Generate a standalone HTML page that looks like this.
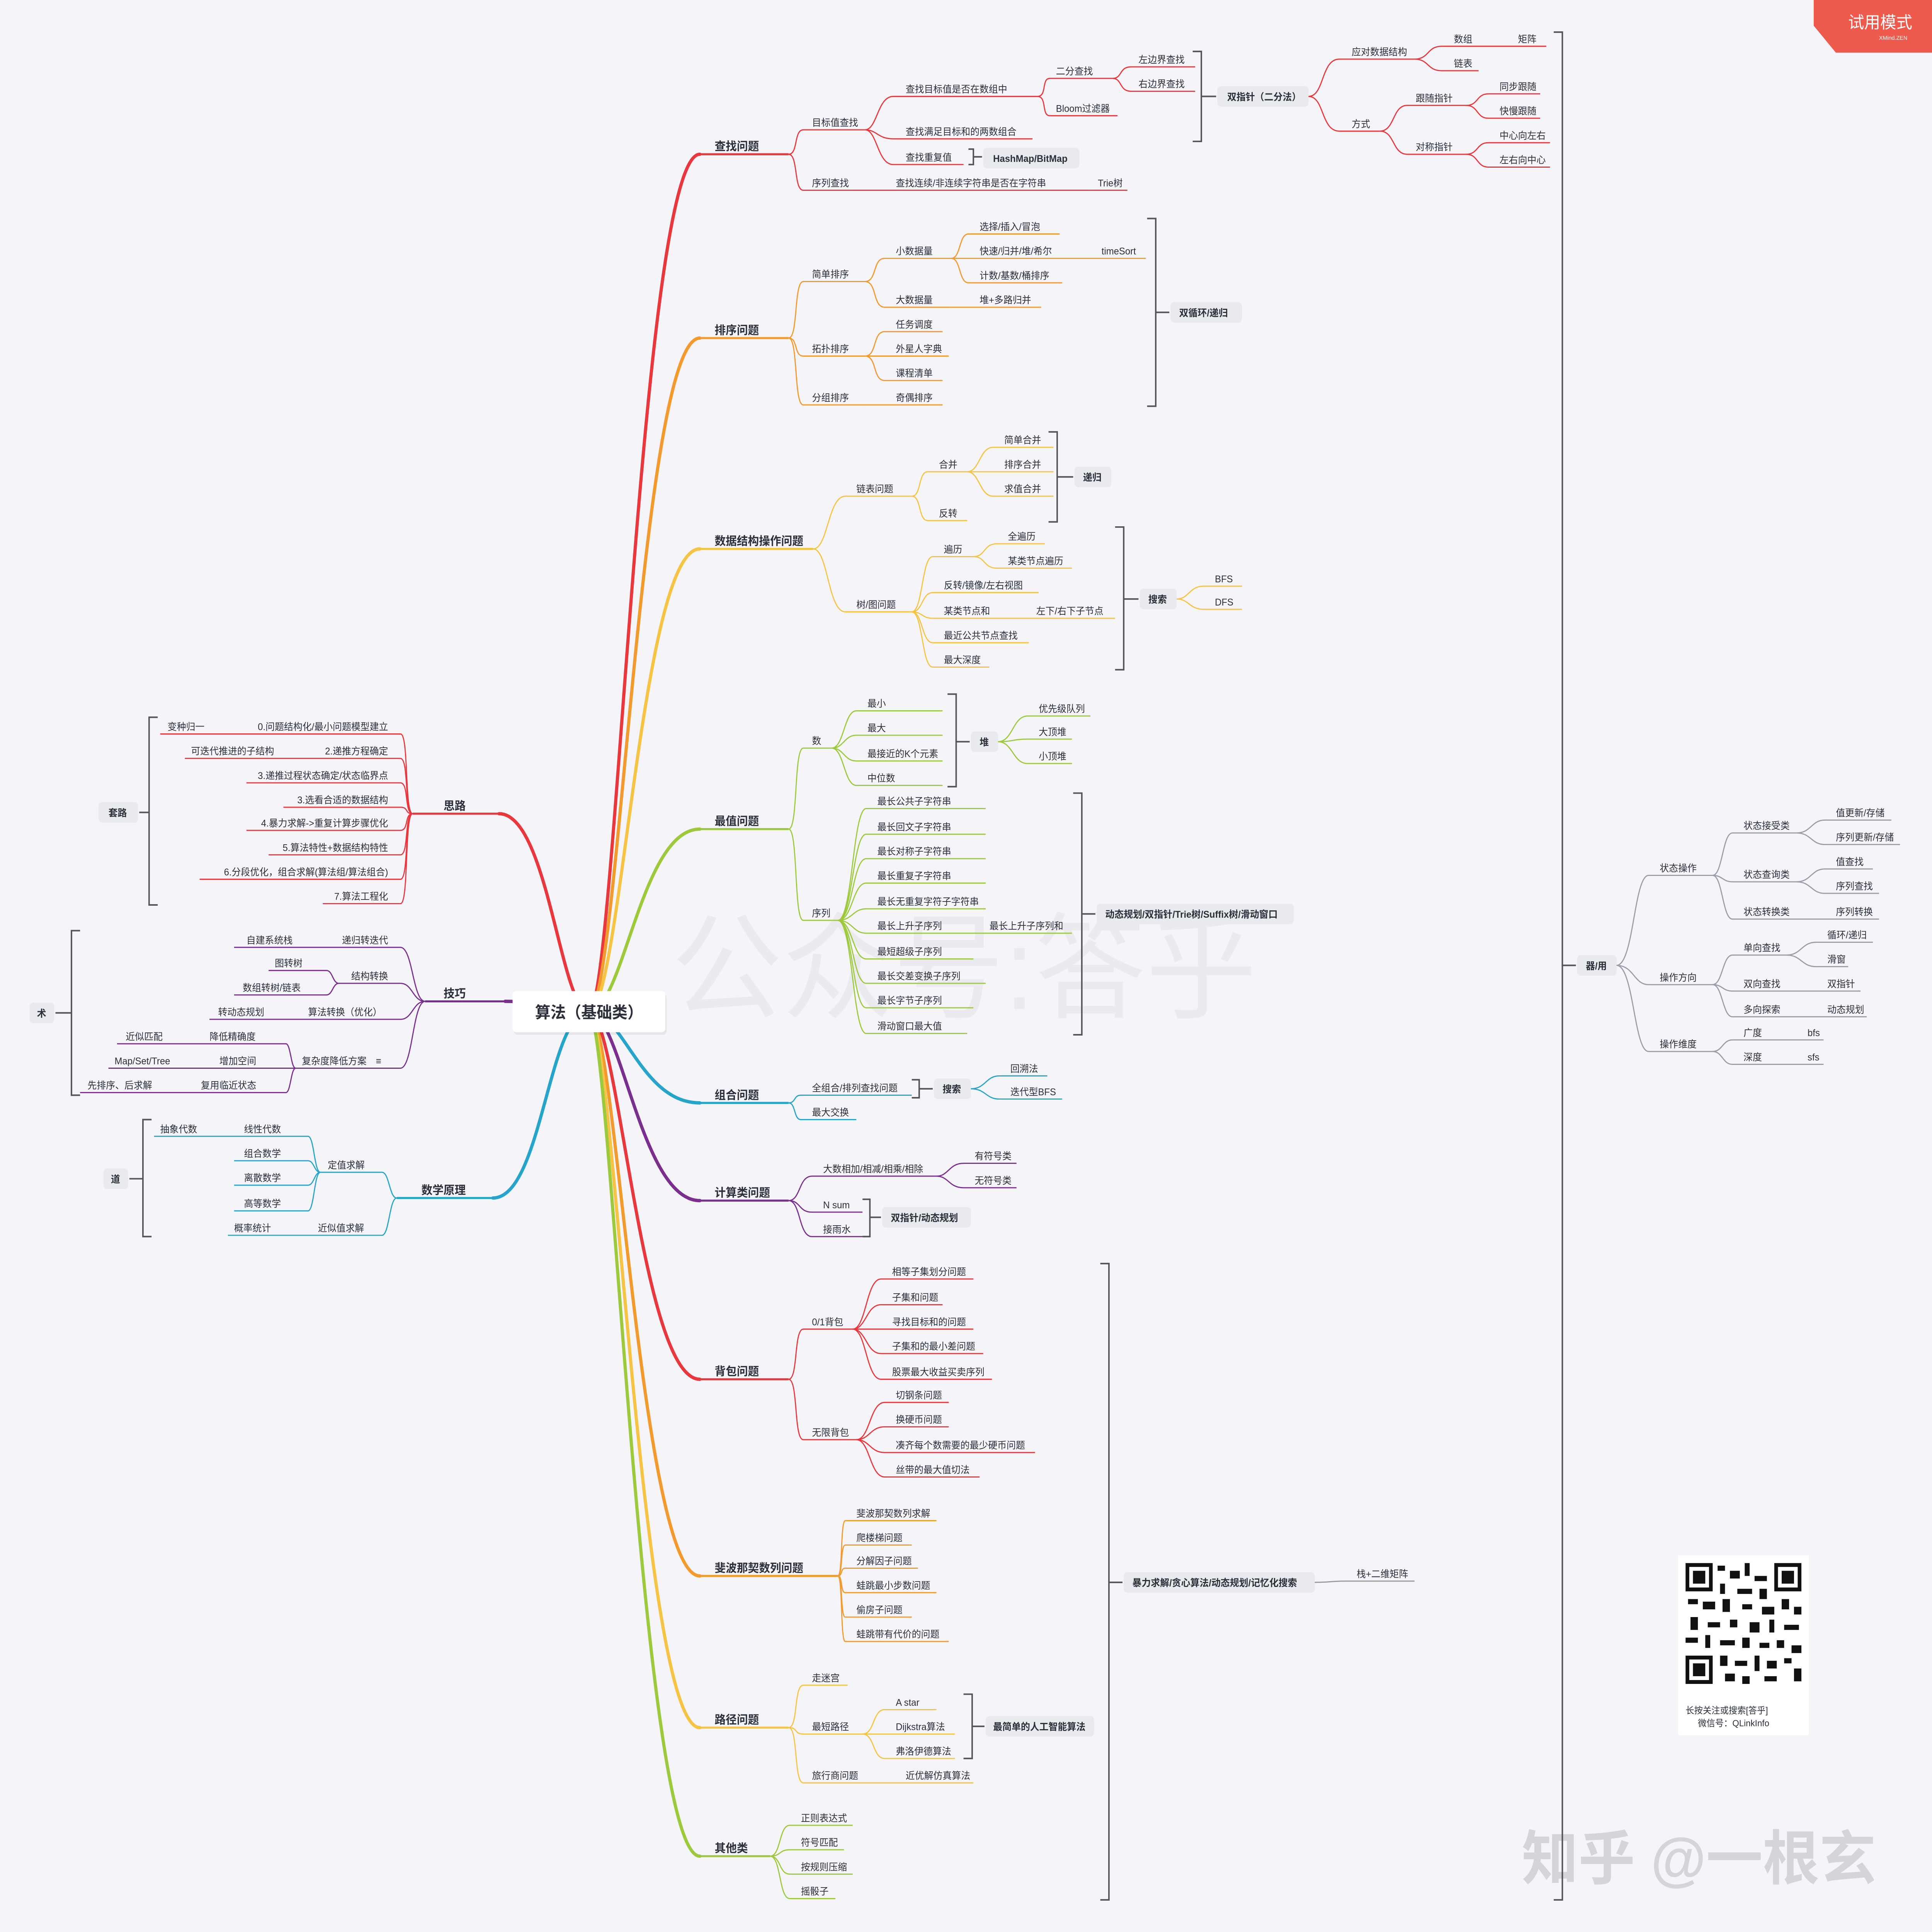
<!DOCTYPE html>
<html><head><meta charset="utf-8"><style>
html,body{margin:0;padding:0;background:#f5f5f9;width:100%;height:100%;overflow:hidden}
svg{display:block;position:absolute;left:0;top:0;width:100vw;height:100vh}
text{font-family:"Liberation Sans","Noto Sans CJK SC",sans-serif;font-size:7.5px;fill:#2a2f3a}
.tp{font-size:9px;font-weight:bold}
.bx{font-weight:bold}
.e{text-anchor:end}
</style></head><body>
<svg width="100%" height="100%" viewBox="0 0 1568 1503" preserveAspectRatio="none" xmlns="http://www.w3.org/2000/svg">
<rect width="1568" height="1503" fill="#f5f5f9"/>
<text x="545" y="785" style="font-size:90px;fill:#000;opacity:0.035">公众号:答乎</text>
<text x="1235" y="1462" style="font-size:46px;fill:#d4d4da;font-weight:bold">知乎 @一根玄</text>
<polygon points="1472,0 1568,0 1568,41 1490,41 1472,20" fill="#ee5a4c"/>
<text x="1500" y="22" style="font-size:13px;fill:#fff">试用模式</text>
<text x="1525" y="31" style="font-size:4.5px;fill:#fff">XMind.ZEN</text>

<g fill="none" stroke-width="2.6" stroke-linecap="round">
<path d="M478 787 C500 787 520 120 568 120" stroke="#e8383d"/>
<path d="M478 787 C502 787 520 263 568 263" stroke="#f39a2e"/>
<path d="M478 787 C504 787 520 427 568 427" stroke="#f6c444"/>
<path d="M478 787 C506 787 520 645 568 645" stroke="#9dc93d"/>
<path d="M478 787 C506 787 520 858 568 858" stroke="#27a4c9"/>
<path d="M478 787 C504 787 520 934 568 934" stroke="#7a2e8e"/>
<path d="M478 787 C502 787 520 1073 568 1073" stroke="#e8383d"/>
<path d="M478 787 C500 787 520 1226 568 1226" stroke="#f39a2e"/>
<path d="M478 787 C498 787 520 1344 568 1344" stroke="#f6c444"/>
<path d="M478 787 C496 787 520 1444 568 1444" stroke="#9dc93d"/>
<path d="M478 787 C455 787 445 633 405 633" stroke="#e8383d"/>
<path d="M478 787 C450 787 440 779 410 779" stroke="#7a2e8e"/>
<path d="M478 787 C445 787 440 932 400 932" stroke="#27a4c9"/>
</g>
<g fill="none" stroke-width="1.6">
<path d="M568 120 H640" stroke="#e8383d"/><path d="M568 263 H640" stroke="#f39a2e"/>
<path d="M568 427 H660" stroke="#f6c444"/><path d="M568 645 H640" stroke="#9dc93d"/>
<path d="M568 858 H640" stroke="#27a4c9"/><path d="M568 934 H640" stroke="#7a2e8e"/>
<path d="M568 1073 H640" stroke="#e8383d"/><path d="M568 1226 H680" stroke="#f39a2e"/>
<path d="M568 1344 H640" stroke="#f6c444"/><path d="M568 1444 H625" stroke="#9dc93d"/>
<path d="M405 633 H335" stroke="#e8383d"/><path d="M410 779 H345" stroke="#7a2e8e"/>
<path d="M400 932 H322" stroke="#27a4c9"/>
</g>

<rect x="417" y="773" width="124" height="32" rx="3" fill="#000" opacity="0.06"/>
<rect x="416" y="771" width="124" height="32" rx="3" fill="#fff"/>
<text x="478" y="792" style="font-size:12.5px;font-weight:bold;text-anchor:middle">算法（基础类）</text>

<text class="tp" x="580" y="117">查找问题</text>
<text class="tp" x="580" y="260">排序问题</text>
<text class="tp" x="580" y="424">数据结构操作问题</text>
<text class="tp" x="580" y="642">最值问题</text>
<text class="tp" x="580" y="855">组合问题</text>
<text class="tp" x="580" y="931">计算类问题</text>
<text class="tp" x="580" y="1070">背包问题</text>
<text class="tp" x="580" y="1223">斐波那契数列问题</text>
<text class="tp" x="580" y="1341">路径问题</text>
<text class="tp" x="580" y="1441">其他类</text>
<text class="tp" x="360" y="630">思路</text>
<text class="tp" x="360" y="776">技巧</text>
<text class="tp" x="342" y="929">数学原理</text>

<g fill="#e9eaee">
<rect x="798" y="115" width="78" height="16" rx="3"/>
<rect x="988" y="67" width="74" height="16" rx="3"/>
<rect x="950" y="235" width="58" height="16" rx="3"/>
<rect x="872" y="363" width="30" height="16" rx="3"/>
<rect x="925" y="458" width="30" height="16" rx="3"/>
<rect x="788" y="569" width="22" height="16" rx="3"/>
<rect x="890" y="703" width="160" height="16" rx="3"/>
<rect x="758" y="839" width="30" height="16" rx="3"/>
<rect x="716" y="939" width="72" height="16" rx="3"/>
<rect x="912" y="1223" width="155" height="16" rx="3"/>
<rect x="800" y="1335" width="88" height="16" rx="3"/>
<rect x="1280" y="743" width="32" height="16" rx="3"/>
<rect x="80" y="624" width="32" height="16" rx="3"/>
<rect x="24" y="780" width="20" height="16" rx="3"/>
<rect x="84" y="909" width="20" height="16" rx="3"/>
</g>
<g>
<text class="bx" x="806" y="126">HashMap/BitMap</text>
<text class="bx" x="996" y="78">双指针（二分法）</text>
<text class="bx" x="957" y="246">双循环/递归</text>
<text class="bx" x="879" y="374">递归</text>
<text class="bx" x="932" y="469">搜索</text>
<text class="bx" x="795" y="580">堆</text>
<text class="bx" x="897" y="714">动态规划/双指针/Trie树/Suffix树/滑动窗口</text>
<text class="bx" x="765" y="850">搜索</text>
<text class="bx" x="723" y="950">双指针/动态规划</text>
<text class="bx" x="919" y="1234">暴力求解/贪心算法/动态规划/记忆化搜索</text>
<text class="bx" x="806" y="1346">最简单的人工智能算法</text>
<text class="bx" x="1287" y="754">器/用</text>
<text class="bx" x="88" y="635">套路</text>
<text class="bx" x="30" y="791">术</text>
<text class="bx" x="90" y="920">道</text>
</g>

<g fill="none" stroke="#555" stroke-width="1.2">
<path d="M786 116 H790 V128 H786 M790 122 H797"/>
<path d="M968 40 H975 V110 H968 M975 75 H987"/>
<path d="M931 170 H938 V316 H931 M938 243 H949"/>
<path d="M851 336 H858 V406 H851 M858 371 H871"/>
<path d="M905 410 H912 V521 H905 M912 466 H924"/>
<path d="M769 540 H776 V612 H769 M776 577 H787"/>
<path d="M871 617 H878 V805 H871 M878 711 H889"/>
<path d="M740 840 H746 V854 H740 M746 847 H757"/>
<path d="M700 933 H706 V962 H700 M706 947 H715"/>
<path d="M893 983 H900 V1478 H893 M900 1231 H911"/>
<path d="M782 1318 H789 V1368 H782 M789 1343 H799"/>
<path d="M1261 25 H1268 V1478 H1261 M1268 751 H1279"/>
<path d="M128 558 H121 V704 H128 M121 632 H113"/>
<path d="M65 724 H58 V852 H65 M58 788 H45"/>
<path d="M123 871 H116 V962 H123 M116 917 H105"/>
</g>

<g fill="none" stroke="#e8383d" stroke-width="0.9">
<path d="M640 120 C648 120 644 101 652 101 H702"/><path d="M640 120 C648 120 644 148 652 148 H885"/>
<path d="M702 101 C712 101 712 75 725 75 H842"/><path d="M702 101 C712 101 712 108 725 108 H838"/>
<path d="M702 101 C712 101 712 128 725 128 H782"/>
<path d="M842 75 C850 75 845 61 852 61 H903"/><path d="M842 75 C850 75 845 90 852 90 H907"/>
<path d="M903 61 C911 61 908 52 918 52 H970"/><path d="M903 61 C911 61 908 71 918 71 H970"/>
<path d="M885 148 H915"/>
</g>
<text x="659" y="98">目标值查找</text><text x="659" y="145">序列查找</text>
<text x="735" y="72">查找目标值是否在数组中</text><text x="735" y="105">查找满足目标和的两数组合</text>
<text x="735" y="125">查找重复值</text><text x="857" y="58">二分查找</text><text x="857" y="87">Bloom过滤器</text>
<text x="924" y="49">左边界查找</text><text x="924" y="68">右边界查找</text>
<text x="727" y="145">查找连续/非连续字符串是否在字符串</text><text x="891" y="145">Trie树</text>
<g fill="none" stroke="#e8383d" stroke-width="0.9">
<path d="M1062 75 C1075 75 1072 46 1087 46 H1148"/><path d="M1062 75 C1075 75 1072 102 1087 102 H1120"/>
<path d="M1148 46 C1160 46 1158 36 1170 36 H1255"/><path d="M1148 46 C1160 46 1158 55 1170 55 H1200"/>
<path d="M1120 102 C1132 102 1130 82 1142 82 H1190"/><path d="M1120 102 C1132 102 1130 120 1142 120 H1190"/>
<path d="M1190 82 C1200 82 1198 73 1208 73 H1250"/><path d="M1190 82 C1200 82 1198 92 1208 92 H1250"/>
<path d="M1190 120 C1200 120 1198 111 1208 111 H1258"/><path d="M1190 120 C1200 120 1198 130 1208 130 H1258"/>
</g>
<text x="1097" y="43">应对数据结构</text><text x="1097" y="99">方式</text>
<text x="1180" y="33">数组</text><text x="1232" y="33">矩阵</text><text x="1180" y="52">链表</text>
<text x="1149" y="79">跟随指针</text><text x="1149" y="117">对称指针</text>
<text x="1217" y="70">同步跟随</text><text x="1217" y="89">快慢跟随</text>
<text x="1217" y="108">中心向左右</text><text x="1217" y="127">左右向中心</text>

<g fill="none" stroke="#f39a2e" stroke-width="0.9">
<path d="M640 263 C648 263 644 219 652 219 H702"/><path d="M640 263 C648 263 644 277 652 277 H702"/><path d="M640 263 C648 263 644 315 652 315 H702"/>
<path d="M702 219 C712 219 708 201 718 201 H772"/><path d="M702 219 C712 219 708 239 718 239 H772"/>
<path d="M772 201 C780 201 778 182 786 182 H860"/><path d="M772 201 H930"/><path d="M772 201 C780 201 778 220 786 220 H862"/>
<path d="M772 239 H845"/>
<path d="M702 277 C712 277 708 258 718 258 H765"/><path d="M702 277 H770"/><path d="M702 277 C712 277 708 296 718 296 H765"/>
<path d="M702 315 H765"/>
</g>
<text x="659" y="216">简单排序</text><text x="659" y="274">拓扑排序</text><text x="659" y="312">分组排序</text>
<text x="727" y="198">小数据量</text><text x="727" y="236">大数据量</text>
<text x="795" y="179">选择/插入/冒泡</text><text x="795" y="198">快速/归并/堆/希尔</text><text x="894" y="198">timeSort</text>
<text x="795" y="217">计数/基数/桶排序</text><text x="795" y="236">堆+多路归并</text>
<text x="727" y="255">任务调度</text><text x="727" y="274">外星人字典</text><text x="727" y="293">课程清单</text><text x="727" y="312">奇偶排序</text>

<g fill="none" stroke="#f6c444" stroke-width="0.9">
<path d="M660 427 C672 427 672 386 686 386 H740"/><path d="M660 427 C672 427 672 476 686 476 H740"/>
<path d="M740 386 C748 386 745 367 753 367 H785"/><path d="M740 386 C748 386 745 405 753 405 H785"/>
<path d="M785 367 C795 367 795 348 806 348 H855"/><path d="M785 367 H855"/><path d="M785 367 C795 367 795 386 806 386 H855"/>
<path d="M740 476 C749 476 748 433 757 433 H790"/><path d="M740 476 C749 476 748 461 757 461 H843"/>
<path d="M740 476 C749 476 748 481 757 481 H905"/><path d="M740 476 C749 476 748 500 757 500 H835"/>
<path d="M740 476 C749 476 748 519 757 519 H803"/>
<path d="M790 433 C800 433 798 423 809 423 H848"/><path d="M790 433 C800 433 798 442 809 442 H870"/>
<path d="M955 466 C965 466 965 456 977 456 H1008"/><path d="M955 466 C965 466 965 474 977 474 H1008"/>
</g>
<text x="695" y="383">链表问题</text><text x="695" y="473">树/图问题</text>
<text x="762" y="364">合并</text><text x="762" y="402">反转</text>
<text x="815" y="345">简单合并</text><text x="815" y="364">排序合并</text><text x="815" y="383">求值合并</text>
<text x="766" y="430">遍历</text><text x="818" y="420">全遍历</text><text x="818" y="439">某类节点遍历</text>
<text x="766" y="458">反转/镜像/左右视图</text><text x="766" y="478">某类节点和</text><text x="841" y="478">左下/右下子节点</text>
<text x="766" y="497">最近公共节点查找</text><text x="766" y="516">最大深度</text>
<text x="986" y="453">BFS</text><text x="986" y="471">DFS</text>

<g fill="none" stroke="#9dc93d" stroke-width="0.9">
<path d="M640 645 C648 645 644 582 652 582 H675"/><path d="M640 645 C648 645 644 716 652 716 H680"/>
<path d="M675 582 C685 582 685 553 695 553 H765"/><path d="M675 582 C685 582 685 572 695 572 H765"/>
<path d="M675 582 C685 582 685 592 695 592 H765"/><path d="M675 582 C685 582 685 611 695 611 H765"/>
<path d="M810 577 C822 577 822 557 834 557 H885"/><path d="M810 577 C822 577 822 575 834 575 H870"/><path d="M810 577 C822 577 822 594 834 594 H870"/>
<path d="M680 716 C692 716 692 629 703 629 H800"/><path d="M680 716 C692 716 692 649 703 649 H800"/>
<path d="M680 716 C692 716 692 668 703 668 H800"/><path d="M680 716 C692 716 692 687 703 687 H800"/>
<path d="M680 716 C692 716 692 707 703 707 H800"/><path d="M680 716 C692 716 692 726 703 726 H870"/>
<path d="M680 716 C692 716 692 746 703 746 H790"/><path d="M680 716 C692 716 692 765 703 765 H800"/>
<path d="M680 716 C692 716 692 784 703 784 H790"/><path d="M680 716 C692 716 692 804 703 804 H785"/>
</g>
<text x="659" y="579">数</text><text x="659" y="713">序列</text>
<text x="704" y="550">最小</text><text x="704" y="569">最大</text><text x="704" y="589">最接近的K个元素</text><text x="704" y="608">中位数</text>
<text x="843" y="554">优先级队列</text><text x="843" y="572">大顶堆</text><text x="843" y="591">小顶堆</text>
<text x="712" y="626">最长公共子字符串</text><text x="712" y="646">最长回文子字符串</text><text x="712" y="665">最长对称子字符串</text>
<text x="712" y="684">最长重复子字符串</text><text x="712" y="704">最长无重复字符子字符串</text><text x="712" y="723">最长上升子序列</text>
<text x="803" y="723">最长上升子序列和</text><text x="712" y="743">最短超级子序列</text><text x="712" y="762">最长交差变换子序列</text>
<text x="712" y="781">最长字节子序列</text><text x="712" y="801">滑动窗口最大值</text>

<g fill="none" stroke="#27a4c9" stroke-width="0.9">
<path d="M640 858 C646 858 644 852 650 852 H740"/><path d="M640 858 C646 858 644 871 650 871 H695"/>
<path d="M788 847 C800 847 800 837 811 837 H850"/><path d="M788 847 C800 847 800 855 811 855 H862"/>
</g>
<text x="659" y="849">全组合/排列查找问题</text><text x="659" y="868">最大交换</text>
<text x="820" y="834">回溯法</text><text x="820" y="852">迭代型BFS</text>

<g fill="none" stroke="#7a2e8e" stroke-width="0.9">
<path d="M640 934 C650 934 648 915 659 915 H760"/><path d="M640 934 C650 934 648 943 659 943 H700"/><path d="M640 934 C650 934 648 962 659 962 H700"/>
<path d="M760 915 C770 915 770 905 782 905 H825"/><path d="M760 915 C770 915 770 924 782 924 H825"/>
</g>
<text x="668" y="912">大数相加/相减/相乘/相除</text><text x="668" y="940">N sum</text><text x="668" y="959">接雨水</text>
<text x="791" y="902">有符号类</text><text x="791" y="921">无符号类</text>

<g fill="none" stroke="#e8383d" stroke-width="0.9">
<path d="M640 1073 C648 1073 644 1034 652 1034 H692"/><path d="M640 1073 C648 1073 644 1120 652 1120 H695"/>
<path d="M692 1034 C703 1034 703 995 715 995 H790"/><path d="M692 1034 C703 1034 703 1015 715 1015 H765"/>
<path d="M692 1034 C703 1034 703 1034 715 1034 H790"/><path d="M692 1034 C703 1034 703 1053 715 1053 H798"/>
<path d="M692 1034 C703 1034 703 1073 715 1073 H805"/>
<path d="M695 1120 C706 1120 706 1091 718 1091 H770"/><path d="M695 1120 C706 1120 706 1110 718 1110 H770"/>
<path d="M695 1120 C706 1120 706 1130 718 1130 H840"/><path d="M695 1120 C706 1120 706 1149 718 1149 H795"/>
</g>
<text x="659" y="1031">0/1背包</text><text x="659" y="1117">无限背包</text>
<text x="724" y="992">相等子集划分问题</text><text x="724" y="1012">子集和问题</text><text x="724" y="1031">寻找目标和的问题</text>
<text x="724" y="1050">子集和的最小差问题</text><text x="724" y="1070">股票最大收益买卖序列</text>
<text x="727" y="1088">切钢条问题</text><text x="727" y="1107">换硬币问题</text><text x="727" y="1127">凑齐每个数需要的最少硬币问题</text><text x="727" y="1146">丝带的最大值切法</text>

<g fill="none" stroke="#f39a2e" stroke-width="0.9">
<path d="M680 1226 C684 1226 682 1183 686 1183 H760"/><path d="M680 1226 C684 1226 682 1202 686 1202 H740"/>
<path d="M680 1226 C684 1226 682 1220 686 1220 H745"/><path d="M680 1226 C684 1226 682 1239 686 1239 H760"/>
<path d="M680 1226 C684 1226 682 1258 686 1258 H740"/><path d="M680 1226 C684 1226 682 1277 686 1277 H770"/>
</g>
<text x="695" y="1180">斐波那契数列求解</text><text x="695" y="1199">爬楼梯问题</text><text x="695" y="1217">分解因子问题</text>
<text x="695" y="1236">蛙跳最小步数问题</text><text x="695" y="1255">偷房子问题</text><text x="695" y="1274">蛙跳带有代价的问题</text>
<path d="M1067 1231 C1080 1231 1080 1230 1092 1230 H1148" fill="none" stroke="#999" stroke-width="0.9"/>
<text x="1101" y="1227">栈+二维矩阵</text>

<g fill="none" stroke="#f6c444" stroke-width="0.9">
<path d="M640 1344 C648 1344 644 1311 652 1311 H688"/><path d="M640 1344 C648 1344 644 1349 652 1349 H700"/>
<path d="M640 1344 C648 1344 644 1387 652 1387 H790"/>
<path d="M700 1349 C710 1349 708 1330 718 1330 H760"/><path d="M700 1349 H775"/><path d="M700 1349 C710 1349 708 1368 718 1368 H775"/>
</g>
<text x="659" y="1308">走迷宫</text><text x="659" y="1346">最短路径</text><text x="659" y="1384">旅行商问题</text>
<text x="727" y="1327">A star</text><text x="727" y="1346">Dijkstra算法</text><text x="727" y="1365">弗洛伊德算法</text><text x="735" y="1384">近优解仿真算法</text>

<g fill="none" stroke="#9dc93d" stroke-width="0.9">
<path d="M625 1444 C634 1444 632 1420 641 1420 H692"/><path d="M625 1444 C634 1444 632 1439 641 1439 H685"/>
<path d="M625 1444 C634 1444 632 1458 641 1458 H692"/><path d="M625 1444 C634 1444 632 1477 641 1477 H678"/>
</g>
<text x="650" y="1417">正则表达式</text><text x="650" y="1436">符号匹配</text><text x="650" y="1455">按规则压缩</text><text x="650" y="1474">摇骰子</text>

<g fill="none" stroke="#9a9ea8" stroke-width="0.9">
<path d="M1312 751 C1326 751 1326 681 1338 681 H1390"/><path d="M1312 751 C1326 751 1326 766 1338 766 H1390"/><path d="M1312 751 C1326 751 1326 818 1338 818 H1390"/>
<path d="M1390 681 C1398 681 1398 648 1406 648 H1458"/><path d="M1390 681 C1398 681 1398 686 1406 686 H1458"/><path d="M1390 681 C1398 681 1398 715 1406 715 H1525"/>
<path d="M1458 648 C1470 648 1470 638 1481 638 H1535"/><path d="M1458 648 C1470 648 1470 657 1481 657 H1542"/>
<path d="M1458 686 C1470 686 1470 676 1481 676 H1520"/><path d="M1458 686 C1470 686 1470 695 1481 695 H1525"/>
<path d="M1390 766 C1398 766 1398 743 1406 743 H1450"/><path d="M1390 766 C1398 766 1398 771 1406 771 H1510"/><path d="M1390 766 C1398 766 1398 791 1406 791 H1515"/>
<path d="M1450 743 C1462 743 1462 733 1474 733 H1520"/><path d="M1450 743 C1462 743 1462 752 1474 752 H1500"/>
<path d="M1390 818 C1398 818 1398 809 1406 809 H1480"/><path d="M1390 818 C1398 818 1398 828 1406 828 H1480"/>
</g>
<text x="1347" y="678">状态操作</text><text x="1347" y="763">操作方向</text><text x="1347" y="815">操作维度</text>
<text x="1415" y="645">状态接受类</text><text x="1415" y="683">状态查询类</text><text x="1415" y="712">状态转换类</text>
<text x="1490" y="635">值更新/存储</text><text x="1490" y="654">序列更新/存储</text><text x="1490" y="673">值查找</text>
<text x="1490" y="692">序列查找</text><text x="1490" y="712">序列转换</text>
<text x="1415" y="740">单向查找</text><text x="1415" y="768">双向查找</text><text x="1415" y="788">多向探索</text>
<text x="1483" y="730">循环/递归</text><text x="1483" y="749">滑窗</text><text x="1483" y="768">双指针</text><text x="1483" y="788">动态规划</text>
<text x="1415" y="806">广度</text><text x="1467" y="806">bfs</text><text x="1415" y="825">深度</text><text x="1467" y="825">sfs</text>

<g fill="none" stroke="#e8383d" stroke-width="0.9">
<path d="M335 633 C328 633 332 571 325 571 H130"/><path d="M335 633 C328 633 332 590 325 590 H150"/>
<path d="M335 633 C328 633 332 609 325 609 H200"/><path d="M335 633 C328 633 332 628 325 628 H230"/>
<path d="M335 633 C328 633 332 646 325 646 H200"/><path d="M335 633 C328 633 332 665 325 665 H218"/>
<path d="M335 633 C328 633 332 684 325 684 H162"/><path d="M335 633 C328 633 332 703 325 703 H262"/>
</g>
<text class="e" x="315" y="568">0.问题结构化/最小问题模型建立</text><text x="136" y="568">变种归一</text>
<text class="e" x="315" y="587">2.递推方程确定</text><text x="155" y="587">可迭代推进的子结构</text>
<text class="e" x="315" y="606">3.递推过程状态确定/状态临界点</text><text class="e" x="315" y="625">3.选看合适的数据结构</text>
<text class="e" x="315" y="643">4.暴力求解-&gt;重复计算步骤优化</text><text class="e" x="315" y="662">5.算法特性+数据结构特性</text>
<text class="e" x="315" y="681">6.分段优化，组合求解(算法组/算法组合)</text><text class="e" x="315" y="700">7.算法工程化</text>

<g fill="none" stroke="#7a2e8e" stroke-width="0.9">
<path d="M345 779 C335 779 335 737 325 737 H190"/><path d="M345 779 C335 779 335 765 325 765 H275"/>
<path d="M345 779 C335 779 335 793 325 793 H170"/><path d="M345 779 C335 779 335 831 325 831 H240"/>
<path d="M275 765 C270 765 270 755 265 755 H218"/><path d="M275 765 C270 765 270 774 265 774 H190"/>
<path d="M240 831 C236 831 236 812 232 812 H95"/><path d="M240 831 H88"/><path d="M240 831 C236 831 236 850 232 850 H65"/>
</g>
<text class="e" x="315" y="734">递归转迭代</text><text x="200" y="734">自建系统栈</text>
<text class="e" x="315" y="762">结构转换</text><text x="223" y="752">图转树</text><text x="197" y="771">数组转树/链表</text>
<text class="e" x="310" y="790">算法转换（优化）</text><text x="177" y="790">转动态规划</text>
<text x="245" y="828">复杂度降低方案</text><text x="305" y="828">≡</text>
<text x="170" y="809">降低精确度</text><text x="102" y="809">近似匹配</text><text x="178" y="828">增加空间</text><text x="93" y="828">Map/Set/Tree</text>
<text x="163" y="847">复用临近状态</text><text x="71" y="847">先排序、后求解</text>

<g fill="none" stroke="#27a4c9" stroke-width="0.9">
<path d="M322 932 C316 932 316 912 310 912 H260"/><path d="M322 932 C316 932 316 961 310 961 H185"/>
<path d="M260 912 C255 912 255 884 250 884 H125"/><path d="M260 912 C255 912 255 903 250 903 H190"/>
<path d="M260 912 C255 912 255 922 250 922 H190"/><path d="M260 912 C255 912 255 942 250 942 H190"/>
</g>
<text x="266" y="909">定值求解</text><text x="258" y="958">近似值求解</text><text x="190" y="958">概率统计</text>
<text x="198" y="881">线性代数</text><text x="130" y="881">抽象代数</text><text x="198" y="900">组合数学</text>
<text x="198" y="919">离散数学</text><text x="198" y="939">高等数学</text>

<rect x="1362" y="1210" width="106" height="140" fill="#fff"/>
<g fill="#111">
<rect x="1368" y="1216" width="22" height="22"/><rect x="1440" y="1216" width="22" height="22"/><rect x="1368" y="1288" width="22" height="22"/>
</g>
<g fill="#fff"><rect x="1371" y="1219" width="16" height="16"/><rect x="1443" y="1219" width="16" height="16"/><rect x="1371" y="1291" width="16" height="16"/></g>
<g fill="#111">
<rect x="1374" y="1222" width="10" height="10"/><rect x="1446" y="1222" width="10" height="10"/><rect x="1374" y="1294" width="10" height="10"/>
<rect x="1394" y="1218" width="6" height="4"/><rect x="1404" y="1222" width="8" height="6"/><rect x="1416" y="1216" width="4" height="10"/><rect x="1424" y="1226" width="10" height="4"/>
<rect x="1396" y="1232" width="4" height="8"/><rect x="1410" y="1236" width="12" height="4"/><rect x="1428" y="1236" width="6" height="8"/>
<rect x="1370" y="1244" width="8" height="4"/><rect x="1382" y="1246" width="10" height="6"/><rect x="1398" y="1244" width="6" height="10"/>
<rect x="1414" y="1248" width="8" height="4"/><rect x="1430" y="1250" width="10" height="6"/><rect x="1446" y="1244" width="6" height="8"/><rect x="1456" y="1250" width="6" height="6"/>
<rect x="1372" y="1258" width="6" height="10"/><rect x="1386" y="1262" width="10" height="4"/><rect x="1404" y="1260" width="6" height="6"/>
<rect x="1420" y="1262" width="8" height="8"/><rect x="1436" y="1260" width="4" height="10"/><rect x="1448" y="1264" width="12" height="4"/>
<rect x="1368" y="1274" width="10" height="4"/><rect x="1384" y="1272" width="4" height="10"/><rect x="1396" y="1276" width="12" height="4"/>
<rect x="1414" y="1274" width="6" height="8"/><rect x="1428" y="1278" width="8" height="4"/><rect x="1442" y="1276" width="6" height="6"/><rect x="1454" y="1280" width="8" height="6"/>
<rect x="1396" y="1288" width="6" height="8"/><rect x="1408" y="1292" width="10" height="4"/><rect x="1424" y="1288" width="4" height="12"/>
<rect x="1434" y="1292" width="8" height="6"/><rect x="1448" y="1290" width="6" height="4"/><rect x="1456" y="1298" width="6" height="10"/>
<rect x="1400" y="1302" width="8" height="6"/><rect x="1414" y="1304" width="6" height="6"/><rect x="1432" y="1304" width="10" height="4"/>
</g>
<text x="1368" y="1333" style="font-size:7px">长按关注或搜索[答乎]</text>
<text x="1378" y="1343" style="font-size:7px">微信号：QLinkInfo</text>
</svg>
</body></html>
